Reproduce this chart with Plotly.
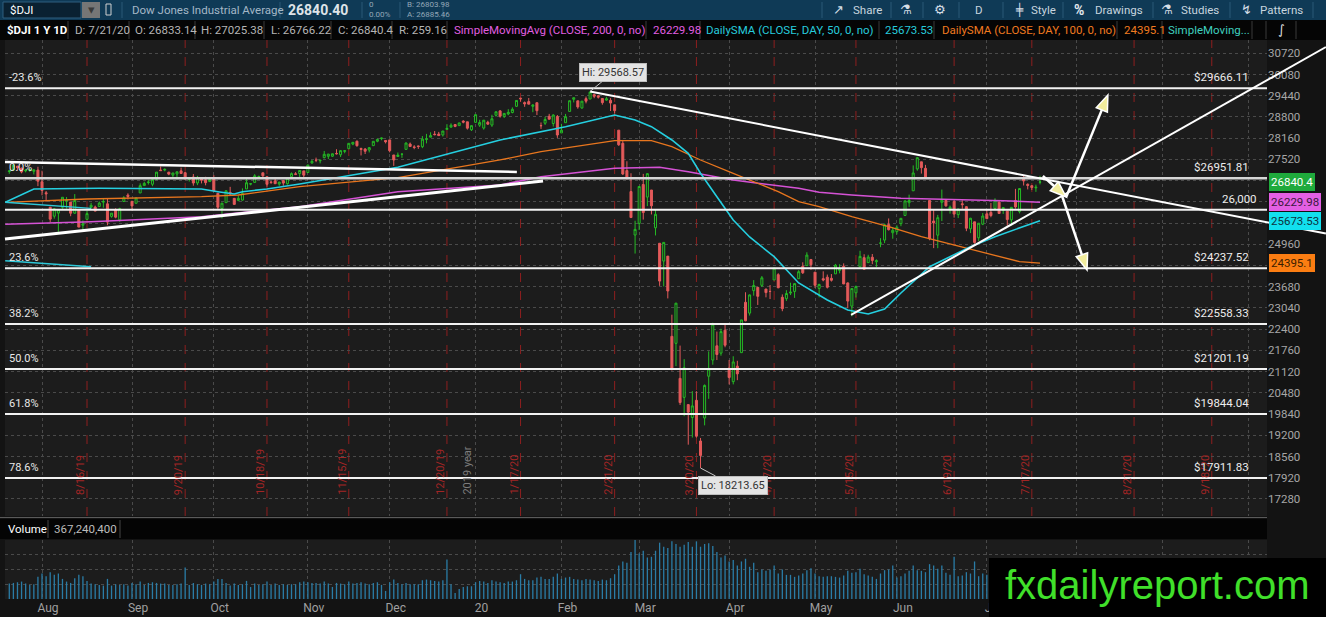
import plotly.graph_objects as go
import pandas as pd

W, H = 1326, 617

# ---------------- trading calendar ----------------
holidays = ["2019-09-02", "2019-11-28", "2019-12-25", "2020-01-01", "2020-01-20",
            "2020-02-17", "2020-04-10", "2020-05-25", "2020-07-03", "2020-09-07"]
calendar = [d.strftime("%Y-%m-%d") for d in pd.bdate_range("2019-07-22", "2020-10-30")
            if d.strftime("%Y-%m-%d") not in holidays]
day_index = {d: i for i, d in enumerate(calendar)}

# ---------------- daily OHLC + volume ($DJI, 7/22/19 - 7/21/20) ----------------
opens = [
    27154, 27201, 27316, 27255, 27176, 27188, 27163, 27199,
    26847, 26513, 26078, 25808, 25901, 26076, 26267, 26234, 25899, 26000, 25534, 25713, 26078, 26084, 26101, 26231, 26181, 25803, 26009, 25696, 26251, 26443,
    26257, 26198, 26509, 26730, 26823, 26771, 26922, 27199, 27198, 27135, 27046, 27081, 27175, 27119, 26917, 26990, 26810, 26969, 26904, 26852,
    26964, 26498, 26039, 26216, 26525, 26346, 26285, 26293, 26629, 26776, 26827, 26996, 27116, 27000, 26840, 26874, 26777, 26881, 26786, 27001, 27084, 27093, 27174,
    27125, 27414, 27498, 27478, 27572, 27613, 27616, 27700, 27661, 27763, 27843, 27982, 28068, 27849, 27834, 27804, 27935, 28067, 28145, 28092,
    28109, 27654, 27607, 27676, 27823, 27984, 27897, 27925, 27903, 28123, 28191, 28280, 28285, 28259, 28426, 28491, 28572, 28539, 28676, 28654, 28414,
    28638, 28553, 28466, 28639, 28556, 28852, 28983, 28819, 28890, 28934, 29122, 29368, 29233, 29263, 29121, 29230, 28542, 28612, 28820, 28603, 28813,
    28319, 28627, 28967, 29333, 29287, 29071, 29352, 29340, 29473, 29438, 29356, 29308, 29303, 29167, 28402, 28005, 27183, 26551, 25241,
    25591, 26763, 26384, 26597, 25458, 24992, 24454, 24604, 22185, 21974, 20917, 20345, 20126, 19737, 20254, 19029, 19722, 20982, 21469, 21899, 21679, 22370,
    21227, 20819, 21286, 21693, 23212, 22885, 23562, 23662, 23723, 23612, 23539, 23885, 24044, 23362, 23320, 23489, 23539, 23924, 24295, 24317, 24501,
    24120, 23630, 23924, 23968, 23935, 24069, 24173, 24299, 23796, 23095, 23498, 24283, 24557, 24408, 24570, 24435, 24995, 25087, 25555, 25309,
    25343, 25584, 25830, 26215, 26574, 27233, 27448, 27251, 26282, 25660, 25236, 26226, 26283, 26023, 26252, 25855, 26183, 26094, 25428, 25638, 25157, 25567,
    25879, 25922, 26041, 26232, 25983, 25960, 25697, 26279, 25947, 26948, 26771, 26727, 26662, 26833.14,
]
highs = [
    27198, 27349, 27326, 27275, 27232, 27224, 27229, 27299,
    27178, 26568, 26078, 26056, 26021, 26381, 26385, 26234, 26474, 26000, 25682, 25978, 26211, 26126, 26252, 26341, 26349, 25904, 26047, 26062, 26413, 26497,
    26257, 26377, 26799, 26847, 26904, 26918, 27138, 27306, 27248, 27146, 27112, 27147, 27272, 27131, 26988, 27079, 27023, 26988, 26997, 26956,
    27046, 26498, 26207, 26591, 26693, 26346, 26431, 26647, 26960, 26803, 27075, 27032, 27116, 27000, 26862, 26929, 26847, 26881, 26978, 27128, 27138, 27191, 27174,
    27367, 27501, 27574, 27512, 27775, 27686, 27691, 27827, 27802, 27798, 28005, 28046, 28090, 27876, 27860, 27891, 28068, 28144, 28175, 28092,
    28109, 27654, 27728, 27700, 28030, 28029, 27949, 27936, 28224, 28290, 28337, 28376, 28349, 28377, 28582, 28608, 28576, 28621, 28701, 28654, 28547,
    28872, 28716, 28709, 28686, 28866, 28958, 29009, 28907, 29034, 29088, 29300, 29374, 29267, 29373, 29182, 29233, 28635, 28804, 28893, 28880, 28859,
    28593, 28892, 29294, 29380, 29287, 29277, 29416, 29568.57, 29500, 29460, 29357, 29406, 29370, 29167, 28402, 28106, 27464, 27102, 25671,
    26707, 27084, 27091, 26597, 25995, 24992, 25020, 24604, 22838, 23189, 21906, 21498, 20126, 20532, 20531, 19121, 20734, 21732, 22596, 22328, 22415, 22553,
    21471, 21584, 21447, 22680, 23514, 23447, 23880, 23662, 24004, 23612, 23733, 24264, 24088, 23449, 23576, 23802, 23784, 24181, 24417, 24720, 24519,
    24120, 23770, 24146, 24048, 24063, 24369, 24359, 24385, 23811, 23634, 23716, 24765, 24660, 24644, 24668, 24508, 25145, 25586, 25740, 25479,
    25535, 25744, 26270, 26457, 27339, 27581, 27448, 27355, 26282, 26016, 25847, 26611, 26315, 26129, 26322, 26030, 26288, 26112, 25758, 25638, 25596, 25905,
    26019, 26204, 26347, 26262, 26082, 25975, 26082, 26632, 26655, 27041, 26794, 26743, 26759, 27025.38,
]
lows = [
    27085, 27176, 27179, 27100, 27130, 27146, 27067, 26714,
    26438, 26249, 25626, 25733, 25338, 26032, 26037, 25807, 25879, 25479, 25339, 25713, 26040, 25957, 26087, 26064, 25536, 25762, 25744, 25635, 26251, 26314,
    25979, 26198, 26509, 26729, 26762, 26712, 26899, 27172, 27162, 27044, 26980, 26918, 27084, 26911, 26852, 26728, 26745, 26796, 26738, 26852,
    26554, 26010, 25743, 26216, 26452, 26161, 26257, 26279, 26629, 26738, 26827, 26947, 26928, 26698, 26782, 26784, 26722, 26725, 26758, 27001, 27047, 26984, 26929,
    27125, 27389, 27437, 27400, 27551, 27530, 27593, 27669, 27591, 27705, 27843, 27948, 27904, 27640, 27683, 27730, 27935, 28038, 28097, 28002,
    27733, 27325, 27607, 27566, 27823, 27903, 27827, 27837, 27860, 28004, 28191, 28246, 28224, 28210, 28414, 28491, 28491, 28539, 28608, 28419, 28377,
    28627, 28501, 28419, 28565, 28502, 28812, 28780, 28768, 28854, 28909, 29101, 29263, 29106, 29186, 28944, 28858, 28440, 28560, 28720, 28511, 28170,
    28319, 28627, 28967, 29239, 29048, 29048, 29210, 29340, 29366, 29355, 29170, 29291, 28980, 28908, 27928, 27048, 26915, 25767, 24681,
    25391, 25706, 26112, 25861, 25227, 23707, 23690, 23328, 21154, 21286, 20117, 19777, 18918, 19133, 19131, 18213.65, 19500, 20300, 21329, 21470, 21601, 21855,
    20736, 20736, 20863, 21693, 22640, 22811, 23411, 23131, 23673, 23361, 23309, 23885, 23635, 22942, 23253, 23430, 23344, 23924, 24064, 24311, 24193,
    23645, 23361, 23844, 23628, 23836, 24069, 24085, 23761, 23035, 22790, 23356, 24283, 24194, 24408, 24361, 24276, 24873, 24995, 25377, 25128,
    25258, 25506, 25830, 26090, 26574, 27180, 27093, 26960, 25082, 24845, 24843, 25660, 26093, 25886, 25765, 25750, 26032, 25356, 25298, 24975, 25059, 25539,
    25716, 25775, 26041, 25883, 25876, 25524, 25523, 26035, 25891, 26734, 26615, 26597, 26542, 26766.22,
]
closes = [
    27172, 27349, 27270, 27141, 27192, 27221, 27198, 26864,
    26583, 26485, 25718, 26030, 26007, 26378, 26287, 25898, 26280, 25479, 25579, 25886, 26136, 25962, 26203, 26252, 25629, 25899, 25778, 26036, 26362, 26403,
    26118, 26355, 26728, 26797, 26836, 26909, 27137, 27182, 27220, 27077, 27111, 27147, 27095, 26935, 26950, 26808, 26971, 26891, 26820, 26917,
    26573, 26079, 26201, 26574, 26478, 26164, 26346, 26497, 26817, 26787, 27025, 27002, 27026, 26770, 26828, 26788, 26834, 26806, 26958, 27091, 27071, 27187, 27046,
    27347, 27462, 27493, 27493, 27675, 27681, 27691, 27691, 27784, 27782, 28005, 28036, 27934, 27821, 27766, 27876, 28066, 28122, 28164, 28051,
    27783, 27503, 27650, 27678, 28015, 27910, 27882, 27911, 28132, 28135, 28236, 28267, 28239, 28377, 28455, 28552, 28515, 28621, 28645, 28462, 28538,
    28869, 28635, 28703, 28584, 28745, 28957, 28824, 28907, 28940, 29030, 29298, 29348, 29196, 29186, 29160, 28990, 28536, 28723, 28734, 28859, 28256,
    28400, 28808, 29291, 29380, 29103, 29277, 29276, 29551, 29423, 29398, 29232, 29348, 29220, 28992, 27961, 27081, 26958, 25767, 25409,
    26703, 25917, 27091, 26121, 25865, 23851, 25018, 23553, 21201, 23186, 20189, 21237, 19899, 20087, 19174, 18592, 20705, 21201, 22552, 21637, 22327, 21917,
    20944, 21413, 21053, 22680, 22654, 23434, 23719, 23391, 23950, 23504, 23538, 24242, 23650, 23019, 23476, 23515, 23775, 24134, 24102, 24634, 24346,
    23724, 23750, 23883, 23665, 23876, 24331, 24222, 23765, 23248, 23625, 23685, 24597, 24207, 24576, 24474, 24465, 24995, 25548, 25401, 25383,
    25475, 25743, 26270, 26282, 27111, 27572, 27272, 26990, 25128, 25606, 25763, 26290, 26120, 26080, 25871, 26025, 26156, 25446, 25746, 25016, 25596, 25813,
    25735, 25827, 26287, 25890, 26067, 25706, 26075, 26086, 26643, 26870, 26735, 26672, 26681, 26840.4,
]
volume_m = [
    230, 240, 250, 260, 230, 210, 220, 330,
    380, 340, 400, 360, 380, 300, 260, 240, 310, 360, 340, 270, 230, 220, 210, 200, 300, 200, 220, 210, 220, 200,
    240, 220, 260, 210, 240, 250, 240, 230, 230, 210, 210, 220, 230, 470, 210, 240, 220, 210, 230, 220,
    260, 300, 300, 240, 200, 230, 210, 220, 270, 180, 230, 210, 220, 260, 210, 230, 210, 220, 210, 220, 220, 250, 260,
    250, 240, 240, 230, 260, 230, 180, 240, 230, 220, 260, 230, 240, 250, 230, 220, 240, 250, 210, 120,
    250, 290, 240, 220, 240, 220, 220, 220, 280, 290, 280, 270, 260, 280, 590, 220, 90, 150, 180, 190, 190,
    250, 270, 260, 240, 280, 260, 250, 240, 260, 260, 280, 370, 300, 280, 280, 320, 330, 300, 300, 330, 380,
    300, 320, 330, 300, 290, 280, 300, 290, 280, 270, 290, 280, 310, 370, 500, 560, 540, 700, 890,
    680, 720, 620, 630, 720, 840, 780, 760, 860, 820, 780, 810, 850, 780, 860, 780, 820, 830, 790, 700, 620, 650,
    560, 580, 500, 560, 600, 480, 540, 400, 440, 420, 440, 500, 380, 440, 360, 360, 330, 350, 380, 430, 460,
    380, 340, 330, 340, 340, 330, 320, 350, 420, 390, 400, 450, 370, 350, 330, 300, 380, 430, 440, 500,
    320, 340, 380, 420, 500, 430, 420, 400, 520, 500, 450, 500, 390, 360, 630, 340, 350, 400, 380, 560, 340, 380,
    360, 300, 340, 310, 300, 340, 300, 380, 360, 400, 340, 380, 330, 367.24,
]
N = len(closes)
xs = list(range(N))

# ---------------- study lines (trading-day index -> value) ----------------
sma200_idx = [-1, 20, 47, 71, 95, 120, 130, 148, 159, 166, 177, 193, 198, 206, 218, 231, 243, 252]
sma200_val = [25564, 25642, 25793, 26095, 26547, 26749, 26999, 27252, 27283, 27150, 26899, 26649, 26529, 26447, 26348, 26317, 26275, 26230]
sma50_idx = [-1, 6, 22, 38, 47, 51, 55, 57, 63, 71, 79, 87, 95, 120, 130, 136, 148, 153, 157, 162, 166, 169, 173,
             177, 181, 187, 193, 200, 205, 210, 214, 218, 225, 231, 235, 241, 247, 252]
sma50_val = [26227, 26628, 26650, 26650, 26628, 26547, 26477, 26547, 26628, 26779, 26951, 27102, 27283, 28106, 28356,
             28507, 28859, 28709, 28507, 28106, 27705, 27102, 26396, 25693, 25181, 24587, 23794, 23281, 22979, 22859,
             23009, 23492, 24285, 24638, 24888, 25190, 25443, 25674]
sma100_idx = [-1, 19, 47, 56, 71, 95, 120, 130, 148, 157, 162, 169, 177, 188, 193, 198, 206, 215, 223, 231, 239, 247, 252]
sma100_val = [26227, 26327, 26396, 26447, 26698, 26969, 27503, 27753, 28085, 28085, 27904, 27503, 27102, 26547, 26245,
              26095, 25793, 25491, 25190, 24939, 24689, 24436, 24395]
extra_idx = [-1, 20]
extra_val_a = [26227, 26045]
extra_val_b = [24466, 24285]

# ---------------- chart annotations data ----------------
month_keys = ["2019-08", "2019-09", "2019-10", "2019-11", "2019-12", "2020-01", "2020-02", "2020-03",
              "2020-04", "2020-05", "2020-06", "2020-07", "2020-08", "2020-09", "2020-10"]
# month labels; the last three sit under the watermark box and are not visible
month_names = ["Aug", "Sep", "Oct", "Nov", "Dec", "20", "Feb", "Mar", "Apr", "May", "Jun", "Jul", "", "", ""]
expiry_dates = ["2019-08-16", "2019-09-20", "2019-10-18", "2019-11-15", "2019-12-20", "2020-01-17", "2020-02-21",
                "2020-03-20", "2020-04-17", "2020-05-15", "2020-06-19", "2020-07-17", "2020-08-21", "2020-09-18"]
expiry_labels = ["8/16/19", "9/20/19", "10/18/19", "11/15/19", "12/20/19", "1/17/20", "2/21/20",
                 "3/20/20", "4/17/20", "5/15/20", "6/19/20", "7/17/20", "8/21/20", "9/18/20"]
fib_pct = ["-23.6%", "0.0%", "23.6%", "38.2%", "50.0%", "61.8%", "78.6%"]
fib_price = [29666.11, 26951.81, 24237.52, 22558.33, 21201.19, 19844.04, 17911.83]
hline_price = 26000
# price-scale ticks (labels hidden where the study value tags sit)
price_ticks = list(range(17280, 30721, 640))
hidden_tick_labels = [26880, 26240, 25600, 24320]
# trend lines: (idx0, price0, idx1, price1)
trend_idx0 = [-1.05, -1.05, 142, 205.8]
trend_p0 = [27442, 25120, 29568.57, 22829]
trend_idx1 = [124.1, 130.5, 321.9, 321.9]
trend_p1 = [27141, 26869, 25283, 30910]
trend_w = [2.5, 3, 2, 2]
# arrows: tail -> head
arrow_idx0 = [252.7, 258.4, 257.4]
arrow_p0 = [27020, 26387, 26417]
arrow_idx1 = [258.4, 268.6, 263.5]
arrow_p1 = [26387, 29460, 24186]
hi_date, hi_val = "2020-02-12", 29568.57
lo_date, lo_val = "2020-03-23", 18213.65
tag_vals = [26840.4, 26229.98, 25673.53, 24395.1]
tag_text = ["26840.4", "26229.98", "25673.53", "24395.1"]
tag_bg = ["#1faa3c", "#e35fe3", "#12e0ee", "#fb7d12"]
tag_fg = ["#ffffff", "#3a1a3a", "#0f3340", "#3a1e00"]

# ---------------- geometry ----------------
XPX = (5, 1267)
XR = [-1.05, 307.5]
YPX = (40, 516)
YR = [16767, 31121]


def px_x(i):
    return XPX[0] + (i - XR[0]) / (XR[1] - XR[0]) * (XPX[1] - XPX[0])


def px_y(p):
    return YPX[1] - (p - YR[0]) / (YR[1] - YR[0]) * (YPX[1] - YPX[0])


def PX(x):
    return x / W


def PY(y):
    return 1 - y / H


tickvals = [min(day_index[d] for d in calendar if d.startswith(m)) for m in month_keys]

PLOT_BG = "#1c1c1c"
GRID = "#4a4a4a"
FONT = "Roboto"

fig = go.Figure()
fig.add_trace(go.Candlestick(
    x=xs, open=opens, high=highs, low=lows, close=closes, xaxis="x", yaxis="y",
    increasing=dict(line=dict(color="#25bb25", width=1), fillcolor=PLOT_BG),
    decreasing=dict(line=dict(color="#e35a5a", width=1), fillcolor="#e35a5a"),
    hoverinfo="skip", whiskerwidth=0))
fig.add_trace(go.Scatter(x=sma200_idx, y=sma200_val, mode="lines", line=dict(color="#d552d5", width=1.5),
                         xaxis="x", yaxis="y", hoverinfo="skip"))
fig.add_trace(go.Scatter(x=sma100_idx, y=sma100_val, mode="lines", line=dict(color="#e8761e", width=1.3),
                         xaxis="x", yaxis="y", hoverinfo="skip"))
fig.add_trace(go.Scatter(x=sma50_idx, y=sma50_val, mode="lines", line=dict(color="#25cfe0", width=1.6),
                         xaxis="x", yaxis="y", hoverinfo="skip"))
fig.add_trace(go.Scatter(x=extra_idx, y=extra_val_a, mode="lines", line=dict(color="#2ec8d8", width=1.4),
                         xaxis="x", yaxis="y", hoverinfo="skip"))
fig.add_trace(go.Scatter(x=extra_idx, y=extra_val_b, mode="lines", line=dict(color="#2ec8d8", width=1.4),
                         xaxis="x", yaxis="y", hoverinfo="skip"))
fig.add_trace(go.Bar(x=xs, y=volume_m, marker=dict(color="#2a7ca6", line=dict(width=0)), width=0.32,
                     xaxis="x2", yaxis="y2", hoverinfo="skip"))

shapes = []
ann = []


def text(x, y, s, color, size=11, anchor="left", family=FONT, **kw):
    ann.append(dict(x=PX(x), y=PY(y), xref="paper", yref="paper", text=s, showarrow=False,
                    xanchor=anchor, yanchor="middle", font=dict(color=color, size=size, family=family), **kw))


def rect(x0, y0, x1, y1, fill, line=None, lw=0, layer="above"):
    shapes.append(dict(type="rect", xref="paper", yref="paper", x0=PX(x0), x1=PX(x1), y0=PY(y1), y1=PY(y0),
                       fillcolor=fill, line=dict(color=line or fill, width=lw), layer=layer))


def vline(x, y0, y1, color, w=1):
    shapes.append(dict(type="line", xref="paper", yref="paper", x0=PX(x), x1=PX(x), y0=PY(y0), y1=PY(y1),
                       line=dict(color=color, width=w)))


# expiry lines (red dashed) + labels
for d, lab in zip(expiry_dates, expiry_labels):
    i = day_index[d]
    shapes.append(dict(type="line", xref="x", yref="y domain", x0=i, x1=i, y0=0, y1=1,
                       line=dict(color="#8e1f1f", width=1, dash="dash"), layer="below"))
    ann.append(dict(x=i, y=PY(497), xref="x", yref="paper", text=lab, textangle=-90, showarrow=False,
                    xanchor="center", yanchor="bottom", xshift=-7,
                    font=dict(color="#a32525", size=11, family=FONT)))
ann.append(dict(x=day_index["2020-01-02"], y=PY(497), xref="x", yref="paper", text="2019 year", textangle=-90,
                showarrow=False, xanchor="center", yanchor="bottom", xshift=-9,
                font=dict(color="#7c7c7c", size=11, family=FONT)))

# fibonacci levels
for pct, p in zip(fib_pct, fib_price):
    lw = 2.5 if pct == "0.0%" else 2
    col = "#d6d6d6" if pct == "0.0%" else "#f2f2f2"
    shapes.append(dict(type="line", xref="x domain", yref="y", x0=0, x1=1, y0=p, y1=p,
                       line=dict(color=col, width=lw)))
    ann.append(dict(x=PX(7), y=p, xref="paper", yref="y", text=pct, showarrow=False, xanchor="left",
                    yanchor="bottom", yshift=2, font=dict(color="#e8e8e8", size=11, family=FONT)))
    ann.append(dict(x=PX(1251), y=p, xref="paper", yref="y", text=f"${p:.2f}", showarrow=False,
                    xanchor="right", yanchor="bottom", yshift=2, font=dict(color="#ececec", size=11.5, family=FONT)))
shapes.append(dict(type="line", xref="x domain", yref="y", x0=0, x1=1, y0=hline_price, y1=hline_price,
                   line=dict(color="#f2f2f2", width=2)))
ann.append(dict(x=PX(1259), y=hline_price, xref="paper", yref="y", text=f"{hline_price:,}", showarrow=False,
                xanchor="right", yanchor="bottom", yshift=2, font=dict(color="#ececec", size=11.5, family=FONT)))

# trend lines (drawn in paper space so they may run across the price scale)
for i0, p0, i1, p1, w in zip(trend_idx0, trend_p0, trend_idx1, trend_p1, trend_w):
    shapes.append(dict(type="line", xref="paper", yref="paper", x0=PX(px_x(i0)), y0=PY(px_y(p0)),
                       x1=PX(px_x(i1)), y1=PY(px_y(p1)), line=dict(color="#ffffff", width=w)))

# arrows
for i0, p0, i1, p1 in zip(arrow_idx0, arrow_p0, arrow_idx1, arrow_p1):
    x0, y0, x1, y1 = px_x(i0), px_y(p0), px_x(i1), px_y(p1)
    dx, dy = x1 - x0, y1 - y0
    L = (dx * dx + dy * dy) ** 0.5
    ux, uy = dx / L, dy / L
    bx, by = x1 - ux * 16, y1 - uy * 16
    nx, ny = -uy, ux
    shapes.append(dict(type="line", xref="paper", yref="paper", x0=PX(x0), y0=PY(y0), x1=PX(bx), y1=PY(by),
                       line=dict(color="#ffffff", width=2.5)))
    path = (f"M {PX(x1)},{PY(y1)} L {PX(bx + nx * 6)},{PY(by + ny * 6)} "
            f"L {PX(bx - nx * 6)},{PY(by - ny * 6)} Z")
    shapes.append(dict(type="path", xref="paper", yref="paper", path=path, fillcolor="#f1ec9c",
                       line=dict(color="#ffffff", width=1.5)))

# Hi / Lo labels
ann.append(dict(x=day_index[hi_date], y=hi_val, xref="x", yref="y", text="Hi: 29568.57", showarrow=True,
                arrowhead=0, arrowwidth=1, arrowcolor="#c8c8c8", ax=23, ay=-19, bgcolor="#e4e4e4",
                bordercolor="#bdbdbd", borderpad=2, font=dict(color="#333333", size=11, family=FONT)))
ann.append(dict(x=day_index[lo_date], y=lo_val, xref="x", yref="y", text="Lo: 18213.65", showarrow=True,
                arrowhead=0, arrowwidth=1, arrowcolor="#c8c8c8", ax=32, ay=17, bgcolor="#e4e4e4",
                bordercolor="#bdbdbd", borderpad=2, font=dict(color="#333333", size=11, family=FONT)))

# price tags on the scale
for v, t, bg, fg in zip(tag_vals, tag_text, tag_bg, tag_fg):
    ann.append(dict(x=PX(1269), y=v, xref="paper", yref="y", text=t, showarrow=False, xanchor="left",
                    yanchor="middle", bgcolor=bg, bordercolor=bg, borderpad=1,
                    font=dict(color=fg, size=11.5, family=FONT)))

# ---------- header row 1 ----------
rect(0, 0, W, 20, "#0f3a56")
rect(3, 2, 81, 18, "#0a2131", "#2f5f7e", 1)
text(8, 10, "$DJI", "#ffffff", 11.5)
rect(82, 2, 100, 18, "#767676")
text(91, 10, "▾", "#3a3a3a", 13, anchor="center")
rect(106, 4, 111, 15, "rgba(0,0,0,0)", "#d0d0d0", 1)
text(130, 10, "Dow Jones Industrial Average", "#a4b7c6", 11.5)
text(286, 10, "<b>26840.40</b>", "#dde3e8", 14)
text(367, 5, "0", "#93a7b6", 8)
text(367, 14, "0.00%", "#93a7b6", 8)
text(405, 5, "B: 26803.98", "#93a7b6", 8)
text(405, 14, "A: 26885.46", "#93a7b6", 8)
for sx in [122, 280, 362, 400, 443]:
    vline(sx, 2, 18, "#2b5876")
text(831, 10, "↗", "#d5dee6", 13)
text(851, 10, "Share", "#c8d5df", 11.5)
text(906, 10, "⚗", "#d5dee6", 13, anchor="center", family="DejaVu Sans")
text(940, 10, "⚙", "#d5dee6", 13, anchor="center", family="DejaVu Sans")
text(979, 10, "D", "#c8d5df", 11.5, anchor="center")
text(1013, 10, "╪", "#d5dee6", 12, family="DejaVu Sans")
text(1029, 10, "Style", "#c8d5df", 11.5)
text(1072, 10, "<b>%</b>", "#e2e8ee", 14)
text(1093, 10, "Drawings", "#c8d5df", 11.5)
text(1167, 10, "⚗", "#d5dee6", 13, anchor="center", family="DejaVu Sans")
text(1179, 10, "Studies", "#c8d5df", 11.5)
text(1246, 10, "↯", "#d5dee6", 13, anchor="center", family="DejaVu Sans")
text(1258, 10, "Patterns", "#c8d5df", 11.5)
for sx in [822, 891, 923, 959, 1003, 1063, 1153, 1230, 1313]:
    vline(sx, 2, 18, "#2b5876")

# ---------- header row 2 ----------
rect(0, 20, W, 40, "#050505")
row2 = [
    (5, "<b>$DJI 1 Y 1D</b>", "#ffffff"),
    (73, "D: 7/21/20", "#b5b5b5"),
    (133, "O: 26833.14", "#b5b5b5"),
    (199, "H: 27025.38", "#b5b5b5"),
    (269, "L: 26766.22", "#b5b5b5"),
    (336, "C: 26840.4", "#b5b5b5"),
    (397, "R: 259.16", "#b5b5b5"),
    (452, "SimpleMovingAvg (CLOSE, 200, 0, no)", "#e05ee0"),
    (651, "26229.98", "#e05ee0"),
    (704, "DailySMA (CLOSE, DAY, 50, 0, no)", "#27cbdc"),
    (883, "25673.53", "#27cbdc"),
    (940, "DailySMA (CLOSE, DAY, 100, 0, no)", "#f07a20"),
    (1122, "24395.1", "#f07a20"),
    (1166, "SimpleMoving...", "#3fcfbf"),
]
for x, s, c in row2:
    text(x, 30, s, c, 11.5)
for sx in [68, 129, 195, 264, 331, 392, 447, 646, 700, 879, 934, 1117, 1162, 1252, 1266, 1296]:
    vline(sx, 21, 39, "#3a3a3a")
text(1281, 30, "∫", "#dddddd", 13, anchor="center", family="DejaVu Sans")

# ---------- volume header band ----------
shapes.append(dict(type="line", xref="paper", yref="paper", x0=0, x1=PX(1267), y0=PY(517.5), y1=PY(517.5),
                   line=dict(color="#5a5a5a", width=1)))
rect(0, 519, 1267, 539, "#040404")
vline(48, 520, 538, "#444444")
vline(120, 520, 538, "#444444")
text(6, 529, "Volume", "#ffffff", 11.5)
text(52, 529, "367,240,400", "#bdbdbd", 11.5)

# ---------- watermark ----------
rect(989, 558, W, H, "#000000")
text(1157, 585, "fxdailyreport.com", "#40e02a", 40, anchor="center", family="Liberation Sans")

fig.update_layout(
    width=W, height=H, margin=dict(l=0, r=0, t=0, b=0),
    paper_bgcolor="#131313", plot_bgcolor=PLOT_BG, showlegend=False, hovermode=False,
    xaxis=dict(domain=[PX(XPX[0]), PX(XPX[1])], range=XR, anchor="y", tickvals=tickvals, showticklabels=False,
               showgrid=True, gridcolor=GRID, griddash="dot", gridwidth=1, zeroline=False,
               rangeslider=dict(visible=False), ticks=""),
    yaxis=dict(domain=[PY(YPX[1]), PY(YPX[0])], range=YR, anchor="x", side="right",
               tickvals=price_ticks,
               ticktext=["" if t in hidden_tick_labels else str(t) for t in price_ticks],
               tickfont=dict(color="#a6a6a6", size=11.5, family=FONT), showgrid=True,
               gridcolor=GRID, griddash="dot", zeroline=False, ticks=""),
    xaxis2=dict(domain=[PX(XPX[0]), PX(XPX[1])], range=XR, anchor="y2", matches="x", tickvals=tickvals,
                ticktext=month_names, tickfont=dict(color="#a0a0a0", size=12, family=FONT), showgrid=True,
                gridcolor=GRID, griddash="dot", zeroline=False, ticks="", ticklabelshift=6),
    yaxis2=dict(domain=[PY(599), PY(540)], range=[0, 880], anchor="x2", side="right", showticklabels=False,
                tickvals=[220, 440, 660], showgrid=True, gridcolor=GRID, griddash="dot", zeroline=False),
    shapes=shapes, annotations=ann,
)

fig.write_html("out.html", config={"displayModeBar": False, "staticPlot": True},
               post_script="document.body.style.margin='0';document.body.style.overflow='hidden';")
